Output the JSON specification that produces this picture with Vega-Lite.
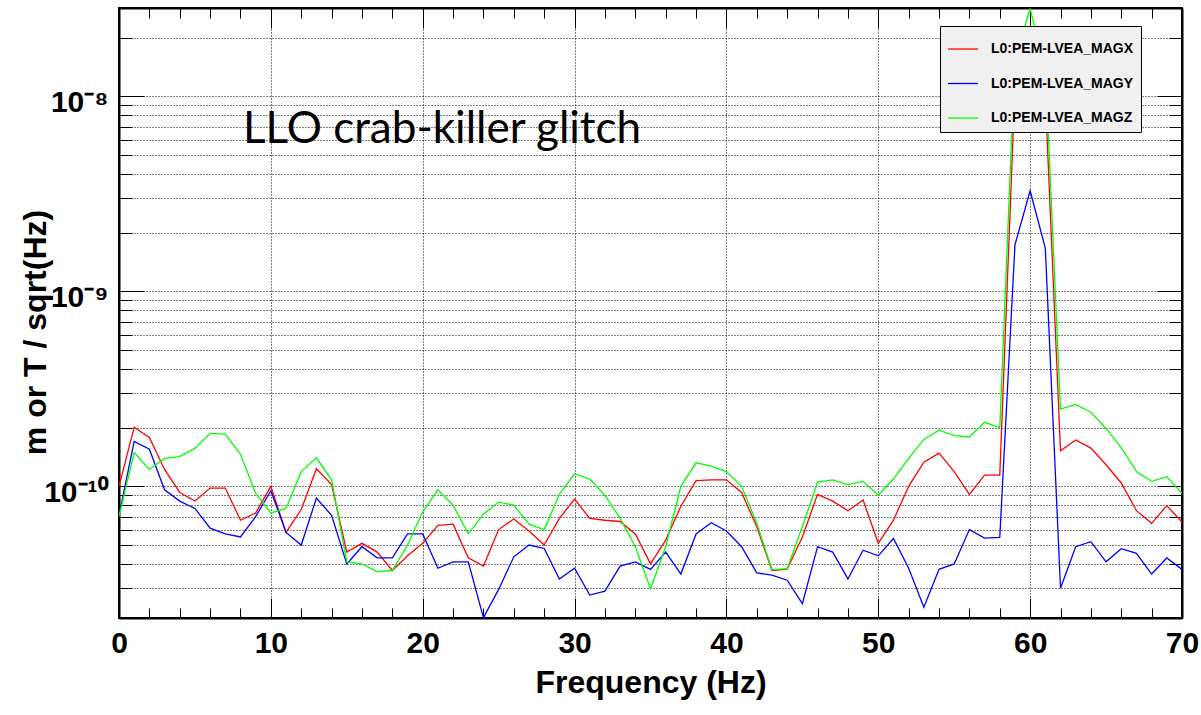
{
  "$schema": "https://vega.github.io/schema/vega-lite/v6.json",
  "width": 1063,
  "height": 610,
  "autosize": {"type": "none"},
  "padding": {"left": 119, "top": 8, "right": 19, "bottom": 97},
  "background": "white",
  "config": {
    "view": {"stroke": "black", "strokeWidth": 2},
    "axis": {
      "labelFont": "Liberation Sans", "labelFontWeight": "bold", "labelFontSize": 30, "labelColor": "black",
      "titleFont": "Liberation Sans", "titleFontWeight": "bold", "titleFontSize": 32, "titleColor": "black",
      "domainColor": "black", "domainWidth": 2, "tickColor": "black", "tickWidth": 1,
      "gridColor": "black", "gridDash": [1, 2], "gridWidth": 1, "labelOverlap": false, "labelFlush": false
    },
    "legend": {
      "orient": "none", "legendX": 821, "legendY": 18,
      "fillColor": "#f0f0f0", "strokeColor": "black", "padding": 7, "cornerRadius": 0,
      "symbolType": "stroke", "symbolSize": 900, "symbolStrokeWidth": 1.3, "symbolOffset": 0,
      "labelFont": "Liberation Sans", "labelFontWeight": "bold", "labelFontSize": 14, "labelColor": "black",
      "labelOffset": 12, "rowPadding": 11.5
    }
  },
  "title": {
    "text": "LLO crab-killer glitch", "anchor": "start", "frame": "group", "orient": "top",
    "dx": 124, "dy": 179, "offset": 0, "baseline": "alphabetic",
    "font": "Lato", "fontSize": 44, "fontWeight": "normal", "color": "black"
  },
  "data": {"values": [
    {"f":0,"L0:PEM-LVEA_MAGX":1.0e-10,"L0:PEM-LVEA_MAGY":7.1e-11,"L0:PEM-LVEA_MAGZ":7.0e-11},
    {"f":1,"L0:PEM-LVEA_MAGX":2.01e-10,"L0:PEM-LVEA_MAGY":1.70e-10,"L0:PEM-LVEA_MAGZ":1.49e-10},
    {"f":2,"L0:PEM-LVEA_MAGX":1.78e-10,"L0:PEM-LVEA_MAGY":1.55e-10,"L0:PEM-LVEA_MAGZ":1.22e-10},
    {"f":3,"L0:PEM-LVEA_MAGX":1.22e-10,"L0:PEM-LVEA_MAGY":9.6e-11,"L0:PEM-LVEA_MAGZ":1.39e-10},
    {"f":4,"L0:PEM-LVEA_MAGX":9.3e-11,"L0:PEM-LVEA_MAGY":8.4e-11,"L0:PEM-LVEA_MAGZ":1.42e-10},
    {"f":5,"L0:PEM-LVEA_MAGX":8.4e-11,"L0:PEM-LVEA_MAGY":7.7e-11,"L0:PEM-LVEA_MAGZ":1.57e-10},
    {"f":6,"L0:PEM-LVEA_MAGX":9.8e-11,"L0:PEM-LVEA_MAGY":6.1e-11,"L0:PEM-LVEA_MAGZ":1.87e-10},
    {"f":7,"L0:PEM-LVEA_MAGX":9.8e-11,"L0:PEM-LVEA_MAGY":5.7e-11,"L0:PEM-LVEA_MAGZ":1.85e-10},
    {"f":8,"L0:PEM-LVEA_MAGX":6.7e-11,"L0:PEM-LVEA_MAGY":5.5e-11,"L0:PEM-LVEA_MAGZ":1.46e-10},
    {"f":9,"L0:PEM-LVEA_MAGX":7.3e-11,"L0:PEM-LVEA_MAGY":7.0e-11,"L0:PEM-LVEA_MAGZ":9.2e-11},
    {"f":10,"L0:PEM-LVEA_MAGX":1.0e-10,"L0:PEM-LVEA_MAGY":9.5e-11,"L0:PEM-LVEA_MAGZ":7.3e-11},
    {"f":11,"L0:PEM-LVEA_MAGX":5.8e-11,"L0:PEM-LVEA_MAGY":5.8e-11,"L0:PEM-LVEA_MAGZ":7.7e-11},
    {"f":12,"L0:PEM-LVEA_MAGX":7.6e-11,"L0:PEM-LVEA_MAGY":5.0e-11,"L0:PEM-LVEA_MAGZ":1.19e-10},
    {"f":13,"L0:PEM-LVEA_MAGX":1.23e-10,"L0:PEM-LVEA_MAGY":8.7e-11,"L0:PEM-LVEA_MAGZ":1.40e-10},
    {"f":14,"L0:PEM-LVEA_MAGX":1.02e-10,"L0:PEM-LVEA_MAGY":7.1e-11,"L0:PEM-LVEA_MAGZ":1.08e-10},
    {"f":15,"L0:PEM-LVEA_MAGX":4.6e-11,"L0:PEM-LVEA_MAGY":4.0e-11,"L0:PEM-LVEA_MAGZ":4.1e-11},
    {"f":16,"L0:PEM-LVEA_MAGX":5.1e-11,"L0:PEM-LVEA_MAGY":4.9e-11,"L0:PEM-LVEA_MAGZ":4.0e-11},
    {"f":17,"L0:PEM-LVEA_MAGX":4.6e-11,"L0:PEM-LVEA_MAGY":4.3e-11,"L0:PEM-LVEA_MAGZ":3.65e-11},
    {"f":18,"L0:PEM-LVEA_MAGX":3.7e-11,"L0:PEM-LVEA_MAGY":4.3e-11,"L0:PEM-LVEA_MAGZ":3.7e-11},
    {"f":19,"L0:PEM-LVEA_MAGX":4.4e-11,"L0:PEM-LVEA_MAGY":5.7e-11,"L0:PEM-LVEA_MAGZ":5.0e-11},
    {"f":20,"L0:PEM-LVEA_MAGX":5.1e-11,"L0:PEM-LVEA_MAGY":5.7e-11,"L0:PEM-LVEA_MAGZ":7.4e-11},
    {"f":21,"L0:PEM-LVEA_MAGX":6.3e-11,"L0:PEM-LVEA_MAGY":3.8e-11,"L0:PEM-LVEA_MAGZ":9.6e-11},
    {"f":22,"L0:PEM-LVEA_MAGX":6.4e-11,"L0:PEM-LVEA_MAGY":4.1e-11,"L0:PEM-LVEA_MAGZ":8.0e-11},
    {"f":23,"L0:PEM-LVEA_MAGX":4.3e-11,"L0:PEM-LVEA_MAGY":4.1e-11,"L0:PEM-LVEA_MAGZ":5.7e-11},
    {"f":24,"L0:PEM-LVEA_MAGX":3.9e-11,"L0:PEM-LVEA_MAGY":2.12e-11,"L0:PEM-LVEA_MAGZ":7.2e-11},
    {"f":25,"L0:PEM-LVEA_MAGX":6.0e-11,"L0:PEM-LVEA_MAGY":2.96e-11,"L0:PEM-LVEA_MAGZ":8.3e-11},
    {"f":26,"L0:PEM-LVEA_MAGX":6.8e-11,"L0:PEM-LVEA_MAGY":4.35e-11,"L0:PEM-LVEA_MAGZ":8.0e-11},
    {"f":27,"L0:PEM-LVEA_MAGX":5.9e-11,"L0:PEM-LVEA_MAGY":5.0e-11,"L0:PEM-LVEA_MAGZ":6.4e-11},
    {"f":28,"L0:PEM-LVEA_MAGX":5.0e-11,"L0:PEM-LVEA_MAGY":4.8e-11,"L0:PEM-LVEA_MAGZ":6.0e-11},
    {"f":29,"L0:PEM-LVEA_MAGX":6.85e-11,"L0:PEM-LVEA_MAGY":3.35e-11,"L0:PEM-LVEA_MAGZ":9.1e-11},
    {"f":30,"L0:PEM-LVEA_MAGX":8.6e-11,"L0:PEM-LVEA_MAGY":3.8e-11,"L0:PEM-LVEA_MAGZ":1.16e-10},
    {"f":31,"L0:PEM-LVEA_MAGX":6.85e-11,"L0:PEM-LVEA_MAGY":2.77e-11,"L0:PEM-LVEA_MAGZ":1.09e-10},
    {"f":32,"L0:PEM-LVEA_MAGX":6.7e-11,"L0:PEM-LVEA_MAGY":2.9e-11,"L0:PEM-LVEA_MAGZ":9.0e-11},
    {"f":33,"L0:PEM-LVEA_MAGX":6.6e-11,"L0:PEM-LVEA_MAGY":3.9e-11,"L0:PEM-LVEA_MAGZ":6.85e-11},
    {"f":34,"L0:PEM-LVEA_MAGX":5.7e-11,"L0:PEM-LVEA_MAGY":4.1e-11,"L0:PEM-LVEA_MAGZ":4.9e-11},
    {"f":35,"L0:PEM-LVEA_MAGX":4.0e-11,"L0:PEM-LVEA_MAGY":3.75e-11,"L0:PEM-LVEA_MAGZ":2.98e-11},
    {"f":36,"L0:PEM-LVEA_MAGX":5.3e-11,"L0:PEM-LVEA_MAGY":4.6e-11,"L0:PEM-LVEA_MAGZ":4.9e-11},
    {"f":37,"L0:PEM-LVEA_MAGX":7.9e-11,"L0:PEM-LVEA_MAGY":3.55e-11,"L0:PEM-LVEA_MAGZ":1.0e-10},
    {"f":38,"L0:PEM-LVEA_MAGX":1.07e-10,"L0:PEM-LVEA_MAGY":5.7e-11,"L0:PEM-LVEA_MAGZ":1.32e-10},
    {"f":39,"L0:PEM-LVEA_MAGX":1.08e-10,"L0:PEM-LVEA_MAGY":6.5e-11,"L0:PEM-LVEA_MAGZ":1.27e-10},
    {"f":40,"L0:PEM-LVEA_MAGX":1.08e-10,"L0:PEM-LVEA_MAGY":5.9e-11,"L0:PEM-LVEA_MAGZ":1.19e-10},
    {"f":41,"L0:PEM-LVEA_MAGX":9.3e-11,"L0:PEM-LVEA_MAGY":4.9e-11,"L0:PEM-LVEA_MAGZ":1.0e-10},
    {"f":42,"L0:PEM-LVEA_MAGX":6.2e-11,"L0:PEM-LVEA_MAGY":3.6e-11,"L0:PEM-LVEA_MAGZ":6.45e-11},
    {"f":43,"L0:PEM-LVEA_MAGX":3.7e-11,"L0:PEM-LVEA_MAGY":3.5e-11,"L0:PEM-LVEA_MAGZ":3.73e-11},
    {"f":44,"L0:PEM-LVEA_MAGX":3.76e-11,"L0:PEM-LVEA_MAGY":3.3e-11,"L0:PEM-LVEA_MAGZ":3.78e-11},
    {"f":45,"L0:PEM-LVEA_MAGX":5.5e-11,"L0:PEM-LVEA_MAGY":2.5e-11,"L0:PEM-LVEA_MAGZ":6.2e-11},
    {"f":46,"L0:PEM-LVEA_MAGX":9.1e-11,"L0:PEM-LVEA_MAGY":4.9e-11,"L0:PEM-LVEA_MAGZ":1.05e-10},
    {"f":47,"L0:PEM-LVEA_MAGX":8.4e-11,"L0:PEM-LVEA_MAGY":4.6e-11,"L0:PEM-LVEA_MAGZ":1.08e-10},
    {"f":48,"L0:PEM-LVEA_MAGX":7.5e-11,"L0:PEM-LVEA_MAGY":3.35e-11,"L0:PEM-LVEA_MAGZ":1.02e-10},
    {"f":49,"L0:PEM-LVEA_MAGX":8.5e-11,"L0:PEM-LVEA_MAGY":4.7e-11,"L0:PEM-LVEA_MAGZ":1.06e-10},
    {"f":50,"L0:PEM-LVEA_MAGX":5.1e-11,"L0:PEM-LVEA_MAGY":4.4e-11,"L0:PEM-LVEA_MAGZ":9.0e-11},
    {"f":51,"L0:PEM-LVEA_MAGX":6.7e-11,"L0:PEM-LVEA_MAGY":5.4e-11,"L0:PEM-LVEA_MAGZ":1.09e-10},
    {"f":52,"L0:PEM-LVEA_MAGX":1.0e-10,"L0:PEM-LVEA_MAGY":3.8e-11,"L0:PEM-LVEA_MAGZ":1.39e-10},
    {"f":53,"L0:PEM-LVEA_MAGX":1.33e-10,"L0:PEM-LVEA_MAGY":2.4e-11,"L0:PEM-LVEA_MAGZ":1.74e-10},
    {"f":54,"L0:PEM-LVEA_MAGX":1.48e-10,"L0:PEM-LVEA_MAGY":3.75e-11,"L0:PEM-LVEA_MAGZ":1.94e-10},
    {"f":55,"L0:PEM-LVEA_MAGX":1.19e-10,"L0:PEM-LVEA_MAGY":4.0e-11,"L0:PEM-LVEA_MAGZ":1.82e-10},
    {"f":56,"L0:PEM-LVEA_MAGX":9.1e-11,"L0:PEM-LVEA_MAGY":6.0e-11,"L0:PEM-LVEA_MAGZ":1.79e-10},
    {"f":57,"L0:PEM-LVEA_MAGX":1.14e-10,"L0:PEM-LVEA_MAGY":5.43e-11,"L0:PEM-LVEA_MAGZ":2.13e-10},
    {"f":58,"L0:PEM-LVEA_MAGX":1.14e-10,"L0:PEM-LVEA_MAGY":5.47e-11,"L0:PEM-LVEA_MAGZ":2.0e-10},
    {"f":59,"L0:PEM-LVEA_MAGX":1.1e-8,"L0:PEM-LVEA_MAGY":1.73e-9,"L0:PEM-LVEA_MAGZ":1.6e-8},
    {"f":60,"L0:PEM-LVEA_MAGX":2.0e-8,"L0:PEM-LVEA_MAGY":3.28e-9,"L0:PEM-LVEA_MAGZ":2.8e-8},
    {"f":61,"L0:PEM-LVEA_MAGX":1.0e-8,"L0:PEM-LVEA_MAGY":1.66e-9,"L0:PEM-LVEA_MAGZ":1.4e-8},
    {"f":62,"L0:PEM-LVEA_MAGX":1.52e-10,"L0:PEM-LVEA_MAGY":3.0e-11,"L0:PEM-LVEA_MAGZ":2.49e-10},
    {"f":63,"L0:PEM-LVEA_MAGX":1.73e-10,"L0:PEM-LVEA_MAGY":4.9e-11,"L0:PEM-LVEA_MAGZ":2.63e-10},
    {"f":64,"L0:PEM-LVEA_MAGX":1.57e-10,"L0:PEM-LVEA_MAGY":5.2e-11,"L0:PEM-LVEA_MAGZ":2.4e-10},
    {"f":65,"L0:PEM-LVEA_MAGX":1.29e-10,"L0:PEM-LVEA_MAGY":4.1e-11,"L0:PEM-LVEA_MAGZ":1.98e-10},
    {"f":66,"L0:PEM-LVEA_MAGX":1.04e-10,"L0:PEM-LVEA_MAGY":4.79e-11,"L0:PEM-LVEA_MAGZ":1.58e-10},
    {"f":67,"L0:PEM-LVEA_MAGX":7.5e-11,"L0:PEM-LVEA_MAGY":4.53e-11,"L0:PEM-LVEA_MAGZ":1.19e-10},
    {"f":68,"L0:PEM-LVEA_MAGX":6.46e-11,"L0:PEM-LVEA_MAGY":3.55e-11,"L0:PEM-LVEA_MAGZ":1.06e-10},
    {"f":69,"L0:PEM-LVEA_MAGX":7.96e-11,"L0:PEM-LVEA_MAGY":4.29e-11,"L0:PEM-LVEA_MAGZ":1.12e-10},
    {"f":70,"L0:PEM-LVEA_MAGX":6.56e-11,"L0:PEM-LVEA_MAGY":3.75e-11,"L0:PEM-LVEA_MAGZ":9.2e-11}
  ]},
  "transform": [
    {"fold": ["L0:PEM-LVEA_MAGX", "L0:PEM-LVEA_MAGY", "L0:PEM-LVEA_MAGZ"], "as": ["channel", "value"]}
  ],
  "layer": [
    {
      "mark": {"type": "line", "clip": true, "strokeWidth": 1.3},
      "encoding": {
        "x": {
          "field": "f", "type": "quantitative",
          "scale": {"domain": [0, 70], "nice": false, "zero": false},
          "axis": {
            "orient": "bottom",
            "title": "Frequency (Hz)", "titleY": 74, "titleBaseline": "alphabetic",
            "values": [0,2,4,6,8,10,12,14,16,18,20,22,24,26,28,30,32,34,36,38,40,42,44,46,48,50,52,54,56,58,60,62,64,66,68,70],
            "labelExpr": "datum.value % 10 == 0 ? format(datum.value, 'd') : ''",
            "labelBaseline": "alphabetic", "labelPadding": 54,
            "tickSize": {"condition": {"test": "datum.value % 10 == 0", "value": -20}, "value": -10},
            "grid": true,
            "gridOpacity": {"condition": {"test": "datum.value % 10 == 0", "value": 1}, "value": 0}
          }
        },
        "y": {
          "field": "value", "type": "quantitative",
          "scale": {"type": "log", "domain": [2.112e-11, 2.837e-8], "nice": false},
          "axis": {
            "orient": "left",
            "title": "m or T / sqrt(Hz)", "titleX": -74, "titleY": 324, "titleBaseline": "alphabetic", "titleAngle": 270,
            "values": [3e-11,4e-11,5e-11,6e-11,7e-11,8e-11,9e-11,1e-10,2e-10,3e-10,4e-10,5e-10,6e-10,7e-10,8e-10,9e-10,1e-9,2e-9,3e-9,4e-9,5e-9,6e-9,7e-9,8e-9,9e-9,1e-8,2e-8],
            "labelExpr": "abs(log(datum.value)/LN10 - round(log(datum.value)/LN10)) < 0.001 ? (round(log(datum.value)/LN10) == -8 ? '10⁻⁸' : (round(log(datum.value)/LN10) == -9 ? '10⁻⁹' : '10⁻¹⁰')) : ''",
            "labelBaseline": "alphabetic", "labelOffset": 15, "labelPadding": 36,
            "tickSize": {"condition": {"test": "abs(log(datum.value)/LN10 - round(log(datum.value)/LN10)) < 0.001", "value": -25}, "value": -13},
            "grid": true
          }
        },
        "color": {
          "field": "channel", "type": "nominal", "title": null,
          "scale": {"domain": ["L0:PEM-LVEA_MAGX", "L0:PEM-LVEA_MAGY", "L0:PEM-LVEA_MAGZ"], "range": ["#ff0000", "#0000ff", "#00ff00"]}
        }
      }
    },
    {
      "mark": {"type": "line", "clip": true, "strokeOpacity": 0},
      "encoding": {
        "x": {
          "field": "f", "type": "quantitative",
          "axis": {
            "orient": "top", "title": null, "labels": false, "grid": false,
            "values": [0,2,4,6,8,10,12,14,16,18,20,22,24,26,28,30,32,34,36,38,40,42,44,46,48,50,52,54,56,58,60,62,64,66,68,70],
            "tickSize": {"condition": {"test": "datum.value % 10 == 0", "value": -20}, "value": -10}
          }
        },
        "y": {
          "field": "value", "type": "quantitative",
          "axis": {
            "orient": "right", "title": null, "labels": false, "grid": false,
            "values": [3e-11,4e-11,5e-11,6e-11,7e-11,8e-11,9e-11,1e-10,2e-10,3e-10,4e-10,5e-10,6e-10,7e-10,8e-10,9e-10,1e-9,2e-9,3e-9,4e-9,5e-9,6e-9,7e-9,8e-9,9e-9,1e-8,2e-8],
            "tickSize": {"condition": {"test": "abs(log(datum.value)/LN10 - round(log(datum.value)/LN10)) < 0.001", "value": -25}, "value": -13}
          }
        },
        "detail": {"field": "channel", "type": "nominal"}
      }
    }
  ],
  "resolve": {"axis": {"x": "independent", "y": "independent"}}
}
